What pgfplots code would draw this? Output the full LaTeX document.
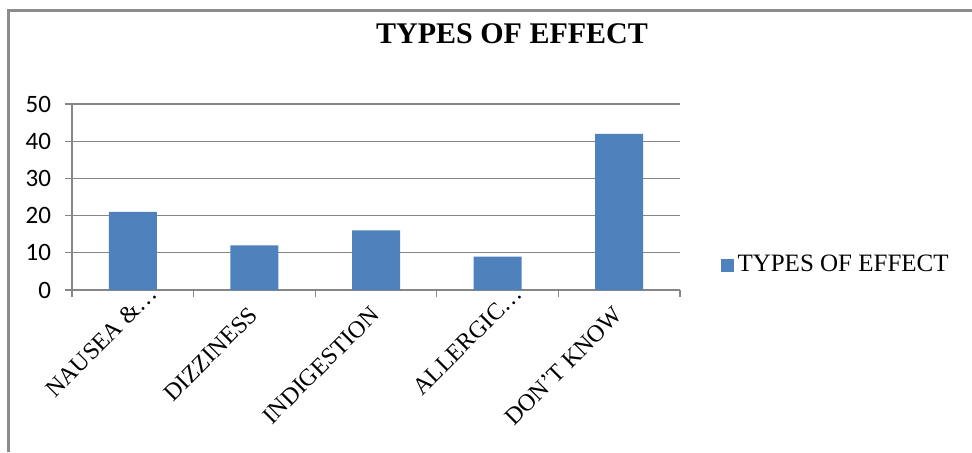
\documentclass[border=0pt]{standalone}
\usepackage{fontspec}
\setmainfont{Liberation Serif}
\newfontfamily\calibri{Carlito}
\usepackage{pgfplots}
\pgfplotsset{compat=1.18}
\definecolor{barblue}{HTML}{4F81BD}
\definecolor{gridgray}{HTML}{868686}
\definecolor{framegray}{HTML}{8C8C8C}

\begin{document}
\begin{tikzpicture}[x=0.5pt,y=-0.5pt]
% canvas in pixel-like units (y grows downward)
\useasboundingbox (0,0) rectangle (972,452);
\draw[framegray, line width=1.5pt] (8,452) -- (8,10.5) -- (972,10.5);
\node[font=\bfseries\fontsize{15}{18}\selectfont] at (512,34) {TYPES OF EFFECT};
\begin{axis}[
  at={(36pt,-145pt)}, anchor=south west,
  width=304pt, height=93pt, scale only axis,
  xmin=-0.5, xmax=4.5, ymin=0, ymax=50,
  ytick={0,10,...,50},
  ymajorgrids, grid style={gridgray, line width=0.6pt},
  axis x line*=bottom, axis y line*=left,
  axis line style={gridgray, line width=0.6pt, -},
  tick align=outside, major tick length=3.5pt,
  tick style={gridgray, line width=0.6pt},
  /pgf/number format/assume math mode=true,
  yticklabel style={font=\calibri\fontsize{12.5}{14}\selectfont, xshift=-3.5pt},
  xtick={-0.5,0.5,...,4.5}, xticklabels={},
  extra x ticks={0,1,2,3,4},
  % truncated names sit further along their slant
  extra x tick labels={NAUSEA \&…\kern-15pt, DIZZINESS, INDIGESTION, ALLERGIC…\kern-15pt, DON’T KNOW},
  % shifts below act in the rotated frame of the label
  extra x tick style={major tick length=0pt, grid=none,
    xticklabel style={font=\fontsize{12}{14}\selectfont, rotate=45, anchor=north east,
      inner sep=0pt, xshift=-7.6pt, yshift=-2.9pt}},
  ybar, bar width=24pt,
  legend style={at={(rel axis cs:1.066,0.134)}, anchor=west, draw=none, fill=none,
    font=\fontsize{12.5}{14}\selectfont, inner sep=0pt,
    /tikz/every even column/.append style={column sep=2pt}},
  legend image code/.code={\fill[barblue] (0pt,-3.25pt) rectangle (6.5pt,3.25pt);},
]
\addplot[fill=barblue, draw=none] coordinates {(0,21) (1,12) (2,16) (3,9) (4,42)};
\addlegendentry{TYPES OF EFFECT}
\end{axis}
\end{tikzpicture}
\end{document}
